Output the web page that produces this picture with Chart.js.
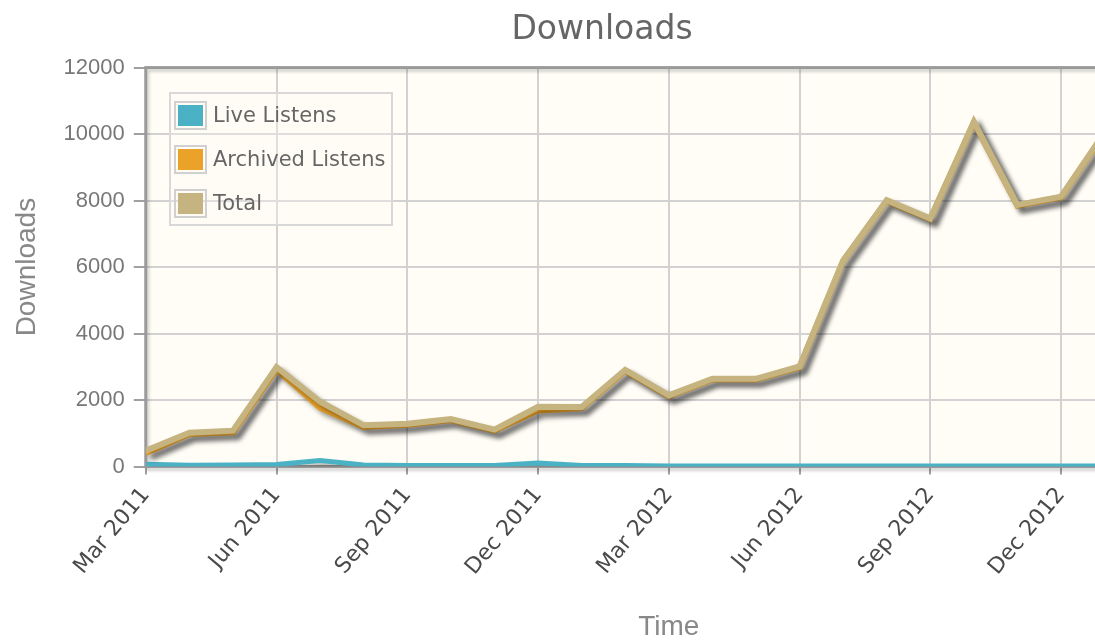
<!DOCTYPE html>
<html>
<head>
<meta charset="utf-8">
<title>Downloads</title>
<script src="https://cdn.jsdelivr.net/npm/chart.js@4.4.1/dist/chart.umd.min.js"></script>
<style>
  html, body { margin: 0; padding: 0; background: #fff; overflow: hidden; }
  #wrap { position: relative; width: 1095px; height: 641px; overflow: hidden; }
  #chart { position: absolute; left: 0; top: 0; }
  #legend {
    position: absolute; left: 169px; top: 92px; width: 220px; height: 130px;
    border: 2px solid #d8d8d8; background: rgba(255, 253, 246, 0.3);
    font-family: "DejaVu Sans", sans-serif; font-size: 21px; color: #666;
  }
  .item { position: absolute; left: 3px; height: 30px; display: flex; align-items: center; }
  .sw { width: 25px; height: 21px; border: 2px solid #d0d0d0; padding: 2px; margin-right: 6px; }
  .sw span { display: block; width: 100%; height: 100%; }
</style>
</head>
<body>
<div id="wrap">
  <canvas id="chart" width="1220" height="641"></canvas>
  <div id="legend"></div>
</div>
<script>
// month index 0 = Mar 2011
const months = ['Mar 2011', 'Apr 2011', 'May 2011', 'Jun 2011', 'Jul 2011', 'Aug 2011', 'Sep 2011',
  'Oct 2011', 'Nov 2011', 'Dec 2011', 'Jan 2012', 'Feb 2012', 'Mar 2012', 'Apr 2012', 'May 2012',
  'Jun 2012', 'Jul 2012', 'Aug 2012', 'Sep 2012', 'Oct 2012', 'Nov 2012', 'Dec 2012', 'Jan 2013'];

const tickLabels = ['Mar 2011', 'Jun 2011', 'Sep 2011', 'Dec 2011', 'Mar 2012', 'Jun 2012', 'Sep 2012', 'Dec 2012'];

const liveListens = [70, 40, 50, 60, 180, 50, 30, 30, 30, 110, 30, 30, 20, 20, 20, 20, 20, 20, 20, 20, 20, 20, 20];
const archivedListens = [410, 980, 1030, 2930, 1770, 1190, 1260, 1400, 1080, 1690, 1760, 2880, 2120, 2620, 2620,
  2990, 6180, 7990, 7440, 10350, 7850, 8100, 10030];
const totalListens = [480, 1020, 1080, 2990, 1950, 1240, 1290, 1430, 1110, 1800, 1790, 2910, 2140, 2640, 2640,
  3010, 6200, 8010, 7460, 10370, 7870, 8120, 10050];

const yTicks = [0, 2000, 4000, 6000, 8000, 10000, 12000];

function toPoints(values) {
  return values.map((v, i) => ({ x: i, y: v }));
}

// cream plot background, grey frame and drop shadow under the lines
const plotDecor = {
  id: 'plotDecor',
  beforeDraw(chart) {
    const { ctx, chartArea: a } = chart;
    ctx.save();
    ctx.fillStyle = '#fffdf6';
    ctx.fillRect(a.left, a.top, a.width, a.height);
    ctx.restore();
  },
  beforeDatasetsDraw(chart) {
    const { ctx, chartArea: a } = chart;
    ctx.save();
    ctx.shadowColor = 'rgba(0,0,0,0.18)';
    ctx.shadowOffsetX = 2;
    ctx.shadowOffsetY = 3;
    ctx.shadowBlur = 3;
    ctx.strokeStyle = '#9a9a9a';
    ctx.lineWidth = 3;
    ctx.strokeRect(a.left, a.top, a.width, a.height);
    ctx.restore();
  },
  beforeDatasetDraw(chart) {
    const ctx = chart.ctx;
    ctx.save();
    ctx.shadowColor = 'rgba(0,0,0,0.38)';
    ctx.shadowOffsetX = 5;
    ctx.shadowOffsetY = 5;
    ctx.shadowBlur = 5;
  },
  afterDatasetDraw(chart) {
    chart.ctx.restore();
  }
};

const gridOpts = { color: '#d2d2d2', lineWidth: 2, tickColor: '#a0a0a0' };

const chart = new Chart(document.getElementById('chart'), {
  type: 'line',
  data: {
    datasets: [
      { label: 'Live Listens', data: toPoints(liveListens), borderColor: '#4bb2c5', backgroundColor: '#4bb2c5', borderWidth: 5, order: 2 },
      { label: 'Archived Listens', data: toPoints(archivedListens), borderColor: '#eaa228', backgroundColor: '#eaa228', borderWidth: 6, order: 1 },
      { label: 'Total', data: toPoints(totalListens), borderColor: '#c5b47f', backgroundColor: '#c5b47f', borderWidth: 6, order: 0 }
    ]
  },
  options: {
    responsive: false,
    animation: false,
    devicePixelRatio: 1,
    layout: { padding: { left: 10, right: 26, top: 0, bottom: 0 } },
    elements: { point: { radius: 0 }, line: { tension: 0, borderJoinStyle: 'miter', borderCapStyle: 'butt' } },
    plugins: {
      legend: { display: false },
      tooltip: { enabled: false },
      title: {
        display: true, text: 'Downloads', color: '#666',
        font: { family: 'DejaVu Sans', size: 33, weight: 'normal' },
        padding: { top: 11, bottom: 17 }
      }
    },
    scales: {
      x: {
        type: 'linear', min: 0, max: 24,
        border: { display: false },
        grid: Object.assign({ tickLength: 8 }, gridOpts),
        ticks: {
          stepSize: 3, autoSkip: false, minRotation: 50, maxRotation: 50, padding: 8,
          color: '#4a4a4a', font: { family: 'DejaVu Sans', size: 22 },
          callback: v => tickLabels[v / 3] || ''
        },
        title: {
          display: true, text: 'Time', color: '#888',
          font: { family: 'Liberation Sans', size: 28 },
          padding: { top: 22, bottom: -3 }
        }
      },
      y: {
        min: 0, max: 12000,
        border: { display: false },
        grid: Object.assign({ tickLength: 12 }, gridOpts),
        afterBuildTicks: scale => { scale.ticks = yTicks.map(v => ({ value: v })); },
        ticks: {
          padding: 9, color: '#777',
          font: { family: 'Liberation Sans', size: 22 },
          callback: v => String(v)
        },
        title: {
          display: true, text: 'Downloads', color: '#888',
          font: { family: 'Liberation Sans', size: 28 },
          padding: { top: 0, bottom: 11 }
        }
      }
    }
  },
  plugins: [plotDecor]
});

// html legend inside the plot, built from the datasets
const legendEl = document.getElementById('legend');
chart.data.datasets.forEach((ds, i) => {
  const item = document.createElement('div');
  item.className = 'item';
  item.style.top = (6 + i * 44) + 'px';
  item.innerHTML = '<div class="sw"><span style="background:' + ds.borderColor + '"></span></div>' + ds.label;
  legendEl.appendChild(item);
});
</script>
</body>
</html>
